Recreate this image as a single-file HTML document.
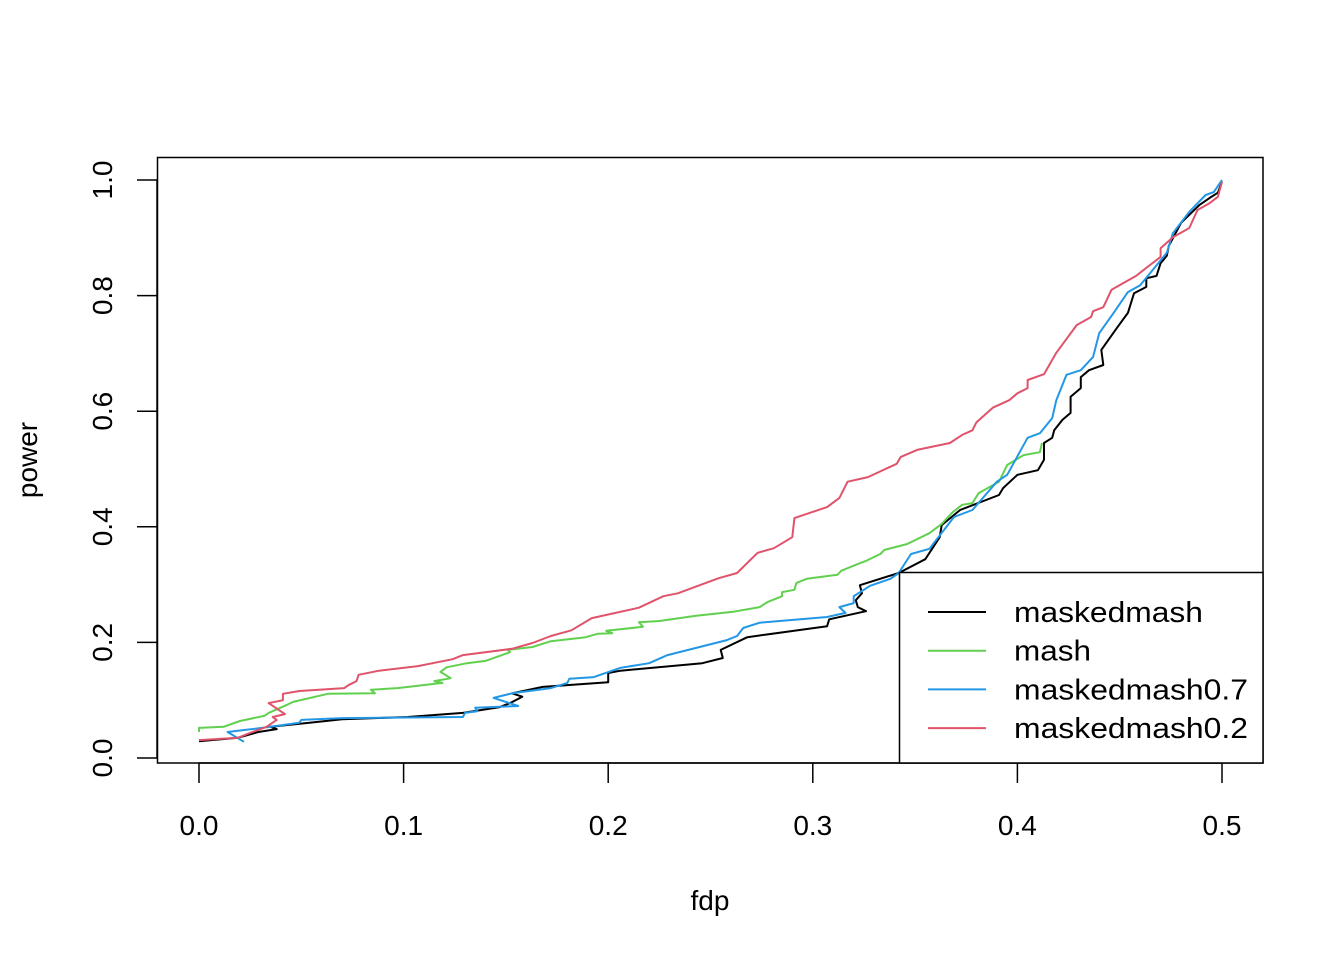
<!DOCTYPE html>
<html><head><meta charset="utf-8"><style>
html,body{margin:0;padding:0;background:#fff;}
svg{display:block;font-family:"Liberation Sans",Arial,sans-serif;}
</style></head><body>
<svg id="chart" width="1344" height="960" viewBox="0 0 1344 960" xmlns="http://www.w3.org/2000/svg">
<rect x="0" y="0" width="1344" height="960" fill="#fff"/>
<g id="series"></g>
<rect x="157.5" y="157.5" width="1105.5" height="605.5" fill="none" stroke="#000" stroke-width="1.5"/>
<g id="xaxis"></g>
<g id="yaxis"></g>
<text x="710" y="910" font-size="28" text-anchor="middle">fdp</text>
<text x="0" y="0" font-size="28" text-anchor="middle" transform="translate(37,460) rotate(-90)">power</text>
<g id="legend"></g>
</svg>
<script>
const seriesNames = ["maskedmash","mash","maskedmash0.7","maskedmash0.2"];
const seriesColors = ["#000000","#61D04F","#2297E6","#DF536B"];
const xTicks = [0,0.1,0.2,0.3,0.4,0.5];
const xTickLabels = ["0.0","0.1","0.2","0.3","0.4","0.5"];
const yTicks = [0,0.2,0.4,0.6,0.8,1.0];
const yTickLabels = ["0.0","0.2","0.4","0.6","0.8","1.0"];

const maskedmashX = [0,0.019,0.029,0.038,0.035,0.054,0.070,0.102,0.129,0.147,0.152,0.158,0.153,0.168,0.200,0.200,0.206,0.246,0.256,0.255,0.268,0.307,0.308,0.326,0.322,0.321,0.324,0.323,0.342,0.355,0.362,0.363,0.372,0.391,0.393,0.400,0.410,0.413,0.413,0.417,0.418,0.422,0.426,0.426,0.431,0.431,0.435,0.442,0.441,0.449,0.454,0.457,0.463,0.463,0.468,0.470,0.473,0.474,0.480,0.489,0.494,0.498,0.500];
const maskedmashY = [0.029,0.035,0.045,0.050,0.054,0.061,0.067,0.071,0.078,0.088,0.095,0.106,0.112,0.123,0.131,0.147,0.151,0.164,0.173,0.187,0.209,0.228,0.240,0.254,0.261,0.273,0.285,0.299,0.320,0.344,0.382,0.403,0.429,0.455,0.467,0.490,0.498,0.516,0.545,0.554,0.567,0.585,0.597,0.625,0.640,0.659,0.671,0.680,0.706,0.746,0.770,0.804,0.815,0.830,0.834,0.856,0.869,0.886,0.926,0.957,0.969,0.978,0.997];

const mashX = [0,0,0.012,0.020,0.032,0.034,0.043,0.046,0.063,0.086,0.084,0.097,0.119,0.115,0.123,0.118,0.121,0.131,0.140,0.152,0.151,0.163,0.172,0.189,0.195,0.202,0.199,0.217,0.215,0.225,0.243,0.261,0.274,0.278,0.285,0.285,0.291,0.292,0.297,0.312,0.314,0.323,0.326,0.333,0.335,0.346,0.357,0.363,0.368,0.373,0.378,0.381,0.391,0.395,0.403,0.411,0.412];
const mashY = [0.045,0.052,0.054,0.064,0.073,0.078,0.092,0.097,0.111,0.112,0.118,0.121,0.130,0.133,0.138,0.149,0.157,0.164,0.168,0.183,0.187,0.192,0.202,0.209,0.215,0.216,0.220,0.227,0.235,0.237,0.246,0.253,0.261,0.270,0.280,0.287,0.291,0.303,0.310,0.317,0.324,0.337,0.341,0.353,0.360,0.370,0.389,0.405,0.424,0.438,0.441,0.458,0.478,0.507,0.524,0.529,0.545];

const masked07X = [0.022,0.014,0.019,0.035,0.049,0.050,0.070,0.129,0.130,0.136,0.135,0.156,0.144,0.153,0.172,0.180,0.181,0.193,0.206,0.220,0.229,0.258,0.263,0.266,0.274,0.307,0.316,0.313,0.320,0.320,0.328,0.338,0.342,0.348,0.357,0.369,0.378,0.390,0.395,0.405,0.411,0.417,0.419,0.424,0.431,0.437,0.440,0.447,0.454,0.460,0.473,0.476,0.484,0.492,0.496,0.500];
const masked07Y = [0.028,0.045,0.047,0.054,0.061,0.066,0.069,0.071,0.078,0.081,0.087,0.090,0.104,0.112,0.121,0.130,0.137,0.140,0.156,0.164,0.178,0.204,0.211,0.225,0.234,0.244,0.251,0.261,0.268,0.280,0.298,0.310,0.320,0.353,0.362,0.417,0.429,0.478,0.490,0.554,0.562,0.588,0.619,0.663,0.671,0.694,0.735,0.770,0.806,0.818,0.874,0.908,0.945,0.974,0.979,1.000];

const masked02X = [0,0.019,0.024,0.033,0.038,0.036,0.042,0.034,0.041,0.041,0.049,0.071,0.073,0.077,0.078,0.088,0.107,0.124,0.129,0.153,0.163,0.172,0.182,0.192,0.215,0.227,0.234,0.254,0.263,0.273,0.281,0.290,0.291,0.307,0.313,0.317,0.327,0.341,0.343,0.351,0.367,0.373,0.378,0.380,0.388,0.396,0.400,0.405,0.405,0.413,0.419,0.429,0.436,0.437,0.442,0.446,0.458,0.463,0.470,0.470,0.476,0.484,0.488,0.494,0.498,0.500];
const masked02Y = [0.031,0.035,0.042,0.054,0.066,0.071,0.076,0.095,0.100,0.111,0.116,0.121,0.126,0.133,0.144,0.151,0.159,0.171,0.178,0.189,0.199,0.211,0.221,0.242,0.260,0.280,0.285,0.311,0.320,0.355,0.363,0.382,0.415,0.434,0.450,0.478,0.486,0.509,0.521,0.533,0.545,0.559,0.567,0.581,0.606,0.619,0.631,0.640,0.654,0.664,0.701,0.749,0.763,0.773,0.780,0.810,0.834,0.848,0.867,0.882,0.901,0.917,0.948,0.960,0.971,0.997];

const NS = "http://www.w3.org/2000/svg";
function xs(v){ return 199 + v * 2046; }
function ys(v){ return 758 - v * 578; }

const seriesX = [maskedmashX, mashX, masked07X, masked02X];
const seriesY = [maskedmashY, mashY, masked07Y, masked02Y];
const sg = document.getElementById('series');
for (let s = 0; s < seriesX.length; s++) {
  const pts = seriesX[s].map((x,i)=>xs(x).toFixed(1)+","+ys(seriesY[s][i]).toFixed(1)).join(" ");
  const pl = document.createElementNS(NS,'polyline');
  pl.setAttribute('points', pts);
  pl.setAttribute('fill','none');
  pl.setAttribute('stroke', seriesColors[s]);
  pl.setAttribute('stroke-width','2');
  pl.setAttribute('stroke-linejoin','round');
  
  
  sg.appendChild(pl);
}

const xg = document.getElementById('xaxis');
const xl = document.createElementNS(NS,'line');
xl.setAttribute('x1', xs(xTicks[0])); xl.setAttribute('x2', xs(xTicks[xTicks.length-1]));
xl.setAttribute('y1', 763); xl.setAttribute('y2', 763);
xl.setAttribute('stroke','#000'); xl.setAttribute('stroke-width','1.5');


xg.appendChild(xl);
xTicks.forEach((t,i)=>{
  const tk = document.createElementNS(NS,'line');
  tk.setAttribute('x1', xs(t)); tk.setAttribute('x2', xs(t));
  tk.setAttribute('y1', 763); tk.setAttribute('y2', 783);
  tk.setAttribute('stroke','#000'); tk.setAttribute('stroke-width','1.5');
  
  
  xg.appendChild(tk);
  const tx = document.createElementNS(NS,'text');
  tx.setAttribute('x', xs(t)); tx.setAttribute('y', 835);
  tx.setAttribute('font-size','28'); tx.setAttribute('text-anchor','middle');
  tx.textContent = xTickLabels[i];
  
  
  xg.appendChild(tx);
});

const yg = document.getElementById('yaxis');
const yl = document.createElementNS(NS,'line');
yl.setAttribute('x1', 157); yl.setAttribute('x2', 157);
yl.setAttribute('y1', ys(yTicks[0])); yl.setAttribute('y2', ys(yTicks[yTicks.length-1]));
yl.setAttribute('stroke','#000'); yl.setAttribute('stroke-width','1.5');


yg.appendChild(yl);
yTicks.forEach((t,i)=>{
  const tk = document.createElementNS(NS,'line');
  tk.setAttribute('x1', 137); tk.setAttribute('x2', 157);
  tk.setAttribute('y1', ys(t)); tk.setAttribute('y2', ys(t));
  tk.setAttribute('stroke','#000'); tk.setAttribute('stroke-width','1.5');
  
  
  yg.appendChild(tk);
  const tx = document.createElementNS(NS,'text');
  tx.setAttribute('x', 0); tx.setAttribute('y', 0);
  tx.setAttribute('font-size','28'); tx.setAttribute('text-anchor','middle');
  tx.setAttribute('transform', 'translate(112,' + ys(t) + ') rotate(-90)');
  tx.textContent = yTickLabels[i];
  
  
  yg.appendChild(tx);
});

const legendTextWidths = [189, 77, 234, 234];
const lg = document.getElementById('legend');
const box = document.createElementNS(NS,'rect');
box.setAttribute('x', 899.5); box.setAttribute('y', 572.5);
box.setAttribute('width', 363.5); box.setAttribute('height', 190.5);
box.setAttribute('fill','#fff'); box.setAttribute('stroke','#000'); box.setAttribute('stroke-width','1.5');


lg.appendChild(box);
seriesNames.forEach((n,i)=>{
  const y = 612 + i * 38.7;
  const ln = document.createElementNS(NS,'line');
  ln.setAttribute('x1', 928); ln.setAttribute('x2', 986);
  ln.setAttribute('y1', y); ln.setAttribute('y2', y);
  ln.setAttribute('stroke', seriesColors[i]); ln.setAttribute('stroke-width','2');
  
  
  lg.appendChild(ln);
  const tx = document.createElementNS(NS,'text');
  tx.setAttribute('x', 1014); tx.setAttribute('y', y + 10);
  tx.setAttribute('font-size','29');
  tx.setAttribute('textLength', legendTextWidths[i]);
  tx.setAttribute('lengthAdjust', 'spacingAndGlyphs');
  tx.textContent = n;
  
  
  lg.appendChild(tx);
});
</script>
</body></html>
